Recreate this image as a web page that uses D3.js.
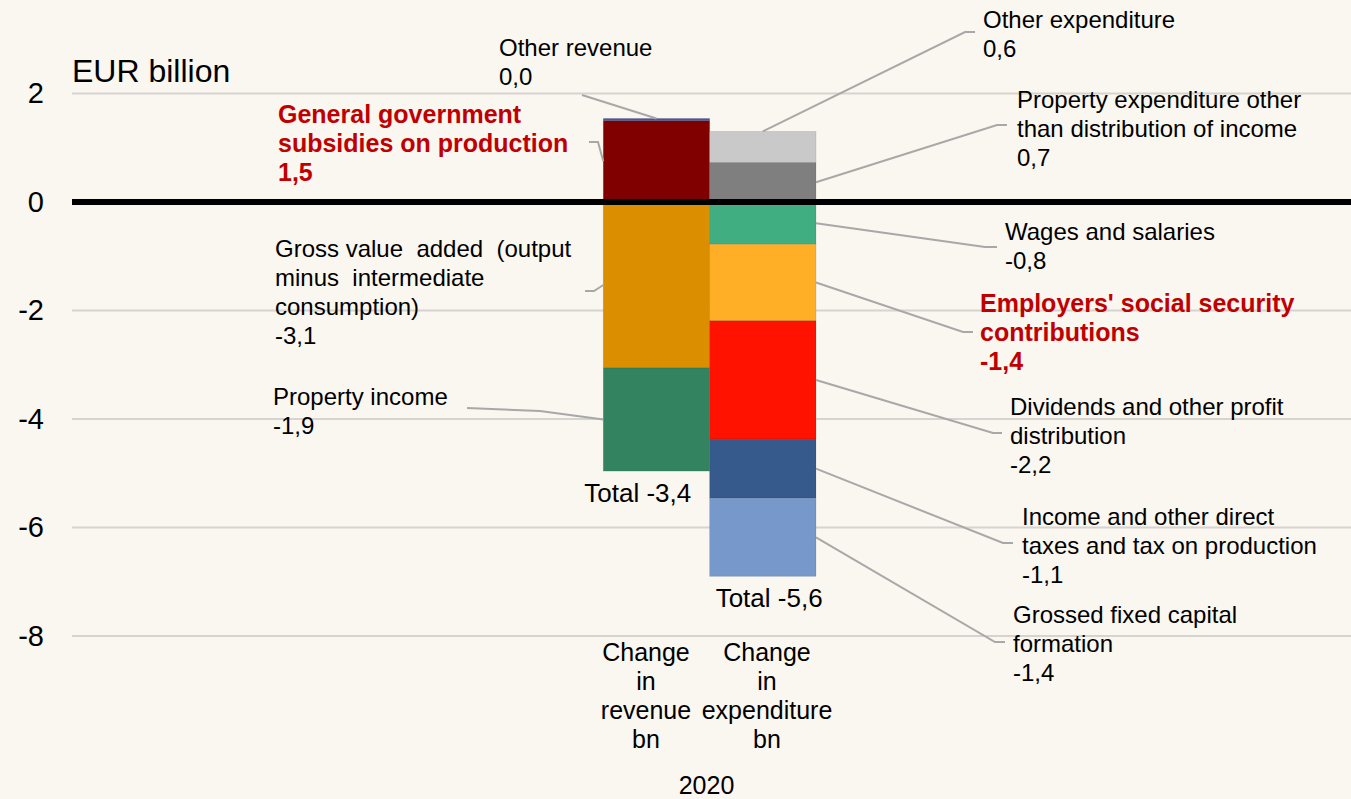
<!DOCTYPE html>
<html>
<head>
<meta charset="utf-8">
<script src="https://cdn.jsdelivr.net/npm/d3@7"></script>
<style>
  body { margin: 0; background: #faf6f0; overflow: hidden; }
  text { font-family: "Liberation Sans", Arial, sans-serif; }
</style>
</head>
<body>
<div id="chart"></div>
<script>
const categories = ['Change in revenue bn', 'Change in expenditure bn']
const categoryLines = [['Change', 'in', 'revenue', 'bn'], ['Change', 'in', 'expenditure', 'bn']]
const year = '2020'
const unit = 'EUR billion'
const yTicks = [2, 0, -2, -4, -6, -8]

// stacking order: positives upward from 0, negatives downward from 0
const revenueItems = [
  'General government subsidies on production',
  'Other revenue',
  'Gross value added (output minus intermediate consumption)',
  'Property income'
]
const revenueValues = [1.5, 0.04, -3.06, -1.9]

const expenditureItems = [
  'Property expenditure other than distribution of income',
  'Other expenditure',
  'Wages and salaries',
  "Employers' social security contributions",
  'Dividends and other profit distribution',
  'Income and other direct taxes and tax on production',
  'Grossed fixed capital formation'
]
const expenditureValues = [0.73, 0.57, -0.78, -1.41, -2.18, -1.09, -1.44]

const highlighted = ['General government subsidies on production', "Employers' social security contributions"]

const revenueColors = ['#800000', '#4b559c', '#da8e00', '#338360']
const expenditureColors = ['#7f7f7f', '#c9c9c9', '#41ae82', '#ffaf25', '#ff1200', '#375a8c', '#7698cb']

// label placement: first baseline, wrapped lines, elbow of the leader line, side of the bar it hooks to
const labelLayout = {
  'General government subsidies on production': { x: 278, y: 123, lines: ['General government', 'subsidies on production'], elbow: [[589, 142], [598, 142]], hook: 'left' },
  'Other revenue': { x: 499, y: 56, lines: ['Other revenue'], elbow: [[582, 95]], hook: 'top' },
  'Gross value added (output minus intermediate consumption)': { x: 275, y: 257, lines: ['Gross value  added  (output', 'minus  intermediate', 'consumption)'], elbow: [[585, 291], [594, 291]], hook: 'left' },
  'Property income': { x: 273, y: 405, lines: ['Property income'], elbow: [[467, 408], [540, 411]], hook: 'left' },
  'Property expenditure other than distribution of income': { x: 1017, y: 108, lines: ['Property expenditure other', 'than distribution of income'], elbow: [[1007, 125], [997, 125]], hook: 'right' },
  'Other expenditure': { x: 983, y: 28, lines: ['Other expenditure'], elbow: [[975, 32], [965, 32]], hook: 'top' },
  'Wages and salaries': { x: 1005, y: 240, lines: ['Wages and salaries'], elbow: [[997, 247], [985, 247]], hook: 'right' },
  "Employers' social security contributions": { x: 980, y: 312, lines: ["Employers' social security", 'contributions'], elbow: [[973, 332], [963, 332]], hook: 'right' },
  'Dividends and other profit distribution': { x: 1010, y: 415, lines: ['Dividends and other profit', 'distribution'], elbow: [[1002, 433], [993, 433]], hook: 'right' },
  'Income and other direct taxes and tax on production': { x: 1022, y: 525, lines: ['Income and other direct', 'taxes and tax on production'], elbow: [[1013, 543], [1003, 543]], hook: 'right' },
  'Grossed fixed capital formation': { x: 1013, y: 623, lines: ['Grossed fixed capital', 'formation'], elbow: [[1005, 642], [995, 642]], hook: 'right' }
}
const totalOffsets = [-19, 6]

const fmt = v => d3.format('.1f')(v).replace('.', ',').replace('\u2212', '-')

function stackBar (items, values, colors, category) {
  let pos = 0
  let neg = 0
  return items.map((name, i) => {
    const v = values[i]
    let y0, y1
    if (v >= 0) { y0 = pos; y1 = pos + v; pos = y1 } else { y0 = neg; y1 = neg + v; neg = y1 }
    return { name, value: v, y0, y1, color: colors[i], category }
  })
}

function plot () {
  const width = 1351
  const height = 799
  const lineH = 29

  const svg = d3.select('#chart').append('svg')
    .attr('width', width)
    .attr('height', height)

  const y = d3.scaleLinear().domain([-8, 2]).range([636, 93.5])
  const xBar = d3.scaleBand().domain(categories).range([603.3, 816]).padding(0)
  const xLabel = d3.scalePoint().domain(categories).range([646, 767])

  // gridlines
  svg.append('g').selectAll('line')
    .data(yTicks.filter(t => t !== 0))
    .join('line')
    .attr('x1', 72).attr('x2', width)
    .attr('y1', d => y(d)).attr('y2', d => y(d))
    .attr('stroke', '#d6d4d0')
    .attr('stroke-width', 2)

  // y axis labels
  const yAxis = svg.append('g')
    .attr('transform', 'translate(72,0)')
    .call(d3.axisLeft(y).tickValues(yTicks).tickSize(0).tickPadding(28).tickFormat(d3.format('d')))
  yAxis.select('.domain').remove()
  yAxis.selectAll('text')
    .text(d => String(d))
    .style('font-size', '29px')
    .style('font-family', '"Liberation Sans", Arial, sans-serif')
    .attr('fill', '#000')

  svg.append('text')
    .attr('x', 72).attr('y', 82)
    .style('font-size', '32px')
    .text(unit)

  const bars = [
    stackBar(revenueItems, revenueValues, revenueColors, categories[0]),
    stackBar(expenditureItems, expenditureValues, expenditureColors, categories[1])
  ]
  const segments = bars.flat()

  svg.append('g').selectAll('rect')
    .data(segments)
    .join('rect')
    .attr('x', d => xBar(d.category))
    .attr('width', xBar.bandwidth())
    .attr('y', d => y(Math.max(d.y0, d.y1)))
    .attr('height', d => Math.abs(y(d.y0) - y(d.y1)))
    .attr('fill', d => d.color)
    .attr('stroke', 'rgba(0,0,0,0.12)')
    .attr('stroke-width', 0.8)

  // zero line
  svg.append('line')
    .attr('x1', 72).attr('x2', width)
    .attr('y1', y(0)).attr('y2', y(0))
    .attr('stroke', '#000')
    .attr('stroke-width', 6)

  // leader lines
  const hookPoint = d => {
    const side = labelLayout[d.name].hook
    const x0 = xBar(d.category)
    if (side === 'top') return [x0 + xBar.bandwidth() / 2, y(Math.max(d.y0, d.y1))]
    const yy = y((d.y0 + d.y1) / 2)
    return [side === 'left' ? x0 : x0 + xBar.bandwidth(), yy]
  }
  svg.append('g').selectAll('path')
    .data(segments)
    .join('path')
    .attr('d', d => d3.line()([...labelLayout[d.name].elbow, hookPoint(d)]))
    .attr('fill', 'none')
    .attr('stroke', '#a8a8a8')
    .attr('stroke-width', 2)

  // segment labels
  const labels = svg.append('g').selectAll('text')
    .data(segments)
    .join('text')
    .attr('x', d => labelLayout[d.name].x)
    .attr('y', d => labelLayout[d.name].y)
    .style('font-size', d => highlighted.includes(d.name) ? '25px' : '24px')
    .style('font-weight', d => highlighted.includes(d.name) ? 'bold' : 'normal')
    .style('white-space', 'pre')
    .attr('fill', d => highlighted.includes(d.name) ? '#c00000' : '#000')
  labels.selectAll('tspan')
    .data(d => [...labelLayout[d.name].lines, fmt(d.value)].map((t, i) => ({ t, i, x: labelLayout[d.name].x })))
    .join('tspan')
    .attr('x', d => d.x)
    .attr('dy', d => d.i === 0 ? 0 : lineH)
    .text(d => d.t)

  // totals
  svg.append('g').selectAll('text')
    .data(bars)
    .join('text')
    .attr('x', (d, i) => xBar(categories[i]) + totalOffsets[i])
    .attr('y', d => y(d3.min(d, s => Math.min(s.y0, s.y1))) + 31)
    .style('font-size', '26px')
    .text(d => 'Total ' + fmt(d3.sum(d, s => s.value)))

  // category labels
  const cat = svg.append('g').selectAll('text')
    .data(categories)
    .join('text')
    .attr('text-anchor', 'middle')
    .attr('y', 661)
    .style('font-size', '25px')
  cat.selectAll('tspan')
    .data((d, i) => categoryLines[i].map((t, j) => ({ t, j, x: xLabel(d) })))
    .join('tspan')
    .attr('x', d => d.x)
    .attr('dy', d => d.j === 0 ? 0 : lineH)
    .text(d => d.t)

  svg.append('text')
    .attr('x', (xLabel(categories[0]) + xLabel(categories[1])) / 2)
    .attr('y', 794)
    .attr('text-anchor', 'middle')
    .style('font-size', '25px')
    .text(year)
}

plot()
</script>
</body>
</html>
